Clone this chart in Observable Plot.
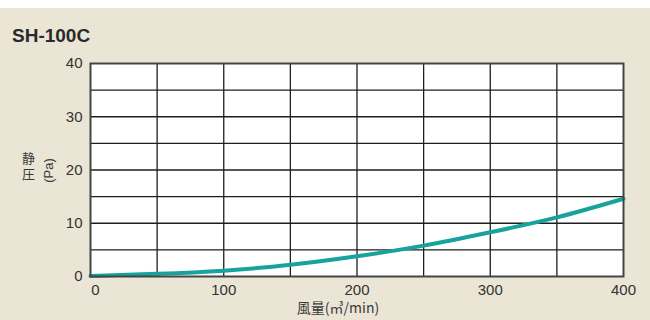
<!DOCTYPE html>
<html>
<head>
<meta charset="utf-8">
<script src="https://cdn.jsdelivr.net/npm/d3@7"></script>
<script src="https://cdn.jsdelivr.net/npm/@observablehq/plot@0.6"></script>
<style>
  html, body { margin: 0; padding: 0; background: #ffffff; }
  #wrap { position: relative; width: 650px; height: 320px; overflow: hidden; }
  #bg { position: absolute; left: 0; top: 8px; width: 650px; height: 312px; background: #ebe5d6; }
  #chart { position: absolute; left: 0; top: 0; }
  .lbl { position: absolute; white-space: nowrap; color: #3a3a3a; line-height: 1; }
  #title { left: 12px; top: 25px; font: bold 19px "Liberation Sans", Arial, sans-serif; color: #2a2a2a; }
  #ycjk { font-family: "Noto Sans CJK JP", "Liberation Sans", sans-serif; font-size: 13px; line-height: 16px; white-space: normal; width: 14px; }
  #ypa { font: 13px "Liberation Sans", Arial, sans-serif; transform: rotate(-90deg); transform-origin: center center; }
  #xlab { font-family: "Noto Sans CJK JP", "Liberation Sans", sans-serif; font-size: 14px; }
</style>
</head>
<body>
<div id="wrap">
  <div id="bg"></div>
  <div id="chart"></div>
  <div id="title" class="lbl">SH-100C</div>
  <div id="ycjk" class="lbl" style="left:22px; top:150px;">静圧</div>
  <div id="ypa" class="lbl" style="left:34px; top:163px; width:28px; text-align:center;">(Pa)</div>
  <div id="xlab" class="lbl" style="left:293px; top:300px; width:90px; text-align:center;">風量(㎥/min)</div>
</div>
<script>
const flow = [0, 50, 100, 150, 200, 250, 300, 350, 400];
const pressure = [0.1, 0.5, 1.1, 2.2, 3.8, 5.8, 8.3, 11.1, 14.6];
const xTickLabels = [0, 100, 200, 300, 400];
const yTickLabels = [0, 10, 20, 30, 40];
const xGridValues = [50, 100, 150, 200, 250, 300, 350];
const yGridValues = [5, 10, 15, 20, 25, 30, 35];

const data = flow.map((f, i) => ({flow: f, pressure: pressure[i]}));

const chart = Plot.plot({
  width: 650,
  height: 320,
  marginTop: 63,
  marginBottom: 44,
  marginLeft: 90,
  marginRight: 27,
  x: {domain: [0, 400]},
  y: {domain: [0, 40]},
  style: {background: "transparent", fontFamily: "'Liberation Sans', Arial, sans-serif", fontSize: "15px", color: "#333"},
  marks: [
    Plot.frame({fill: "white"}),
    Plot.gridX(xGridValues, {stroke: "#1e1e1e", strokeOpacity: 1, strokeWidth: 1.3}),
    Plot.gridY(yGridValues, {stroke: "#1e1e1e", strokeOpacity: 1, strokeWidth: 1.3}),
    Plot.line(data, {x: "flow", y: "pressure", stroke: "#17a39d", strokeWidth: 4, curve: "natural"}),
    Plot.frame({stroke: "#444", strokeWidth: 2}),
    Plot.axisX(xTickLabels.slice(0, 1), {tickSize: 0, tickPadding: 8, label: null, dx: 5}),
    Plot.axisX(xTickLabels.slice(1), {tickSize: 0, tickPadding: 8, label: null}),
    Plot.axisY(yTickLabels, {tickSize: 0, tickPadding: 8, label: null})
  ]
});
document.getElementById("chart").appendChild(chart);
</script>
</body>
</html>
